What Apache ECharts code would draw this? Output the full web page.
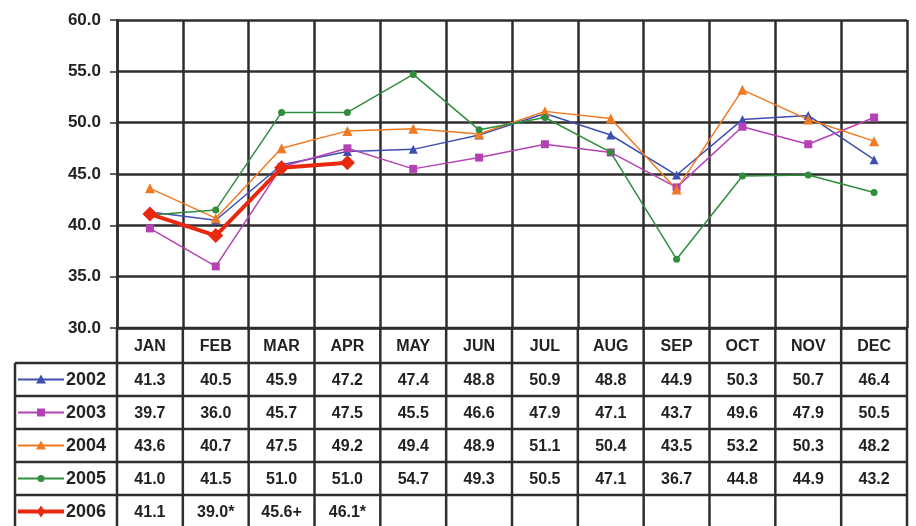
<!DOCTYPE html>
<html><head><meta charset="utf-8">
<script src="https://cdn.jsdelivr.net/npm/echarts@6/dist/echarts.min.js"></script>
<style>html,body{margin:0;padding:0;background:#fff}#c{width:916px;height:526px}</style>
</head><body><div id="c"></div>
<script>
const months = ['JAN','FEB','MAR','APR','MAY','JUN','JUL','AUG','SEP','OCT','NOV','DEC'];
const years = ['2002','2003','2004','2005','2006'];
const v2002 = [41.3,40.5,45.9,47.2,47.4,48.8,50.9,48.8,44.9,50.3,50.7,46.4];
const v2003 = [39.7,36.0,45.7,47.5,45.5,46.6,47.9,47.1,43.7,49.6,47.9,50.5];
const v2004 = [43.6,40.7,47.5,49.2,49.4,48.9,51.1,50.4,43.5,53.2,50.3,48.2];
const v2005 = [41.0,41.5,51.0,51.0,54.7,49.3,50.5,47.1,36.7,44.8,44.9,43.2];
const v2006 = [41.1,39.0,45.6,46.1];
const notes2006 = ['','*','+','*'];
const yTicks = [30,35,40,45,50,55,60];

const values = [v2002,v2003,v2004,v2005,v2006];
const colors = ['#3f4fb0','#b542b5','#f07a22','#2f8d3c','#e8290f'];
const symbols = ['triangle','rect','triangle','circle','diamond'];
const symSizes = [9,8,10,7,15];
const widths = [1.5,1.5,1.5,1.5,4];

const chart = echarts.init(document.getElementById('c'), null, {renderer:'canvas'});
const FONT = 'Liberation Sans';
const LINE = '#2e2e2e';

chart.setOption({
  animation:false,
  backgroundColor:'#fff',
  grid:{left:117,right:9,top:20,bottom:198,containLabel:false},
  xAxis:{type:'category',data:months,boundaryGap:true,
    axisLine:{show:false},axisTick:{show:false},axisLabel:{show:false},
    splitLine:{show:true,interval:0,lineStyle:{color:LINE,width:2.5}}},
  yAxis:{type:'value',min:yTicks[0],max:yTicks[yTicks.length-1],interval:5,
    axisLine:{show:true,lineStyle:{color:LINE,width:2.5}},
    axisTick:{show:true,length:7,lineStyle:{color:LINE,width:1.5}},
    axisLabel:{formatter:v=>v.toFixed(1),color:'#222',fontFamily:FONT,fontWeight:'bold',fontSize:17,margin:16},
    splitLine:{show:true,lineStyle:{color:LINE,width:2.5}}},
  series:years.map((y,i)=>({
    name:y,type:'line',data:values[i],symbol:symbols[i],symbolSize:symSizes[i],
    color:colors[i],lineStyle:{width:widths[i],color:colors[i]},
    itemStyle:{color:colors[i]},z:i===4?5:2
  }))
});

// Build the data table (with its legend column) below the plot from the arrays
const left = 117, right = 907, legendLeft = 15;
const x0 = chart.convertToPixel({xAxisIndex:0},0);
const x1 = chart.convertToPixel({xAxisIndex:0},1);
const band = x1 - x0;
const plotBottom = chart.convertToPixel({yAxisIndex:0},yTicks[0]);
const headerH = 35, rowH = 33;
const g = [];
const ln = (xa,ya,xb,yb)=>g.push({type:'line',shape:{x1:xa,y1:ya,x2:xb,y2:yb},style:{stroke:LINE,lineWidth:2.5},z:10});
const rowsTop = plotBottom + headerH;
ln(left,plotBottom,right,plotBottom);
for(let r=0;r<=years.length;r++){ ln(legendLeft,rowsTop+r*rowH,right,rowsTop+r*rowH); }
ln(legendLeft,rowsTop,legendLeft,600);
for(let c=0;c<=months.length;c++){ const x = x0 - band/2 + c*band; ln(x,plotBottom,x,600); }
months.forEach((m,c)=>{
  g.push({type:'text',x:x0+c*band,y:plotBottom+headerH/2+1,style:{text:m,align:'center',verticalAlign:'middle',
    font:'bold 16px "'+FONT+'"',fill:'#222'},z:11});
});
values.forEach((arr,r)=>{
  arr.forEach((v,c)=>{
    const t = v.toFixed(1) + (r===4 ? notes2006[c] : '');
    g.push({type:'text',x:x0+c*band,y:rowsTop+r*rowH+rowH/2+1,style:{text:t,align:'center',verticalAlign:'middle',
      font:'bold 16px "'+FONT+'"',fill:'#222'},z:11});
  });
});
// legend keys
years.forEach((y,r)=>{
  const cy = rowsTop + r*rowH + rowH/2;
  const lx0 = 18, lx1 = 64, mx = 41, col = colors[r];
  g.push({type:'line',shape:{x1:lx0,y1:cy,x2:lx1,y2:cy},style:{stroke:col,lineWidth:r===4?4:1.8},z:11});
  let s;
  if(symbols[r]==='triangle') s={type:'polygon',shape:{points:[[mx,cy-5],[mx+5,cy+4],[mx-5,cy+4]]}};
  else if(symbols[r]==='rect') s={type:'rect',shape:{x:mx-4,y:cy-4,width:8,height:8}};
  else if(symbols[r]==='circle') s={type:'circle',shape:{cx:mx,cy:cy,r:3.5}};
  else s={type:'polygon',shape:{points:[[mx,cy-6],[mx+4,cy],[mx,cy+6],[mx-4,cy]]}};
  s.style={fill:col}; s.z=12; g.push(s);
  g.push({type:'text',x:66,y:cy+1,style:{text:y,align:'left',verticalAlign:'middle',
    font:'bold 18px "'+FONT+'"',fill:'#222'},z:11});
});
chart.setOption({graphic:{elements:g}});
</script></body></html>
